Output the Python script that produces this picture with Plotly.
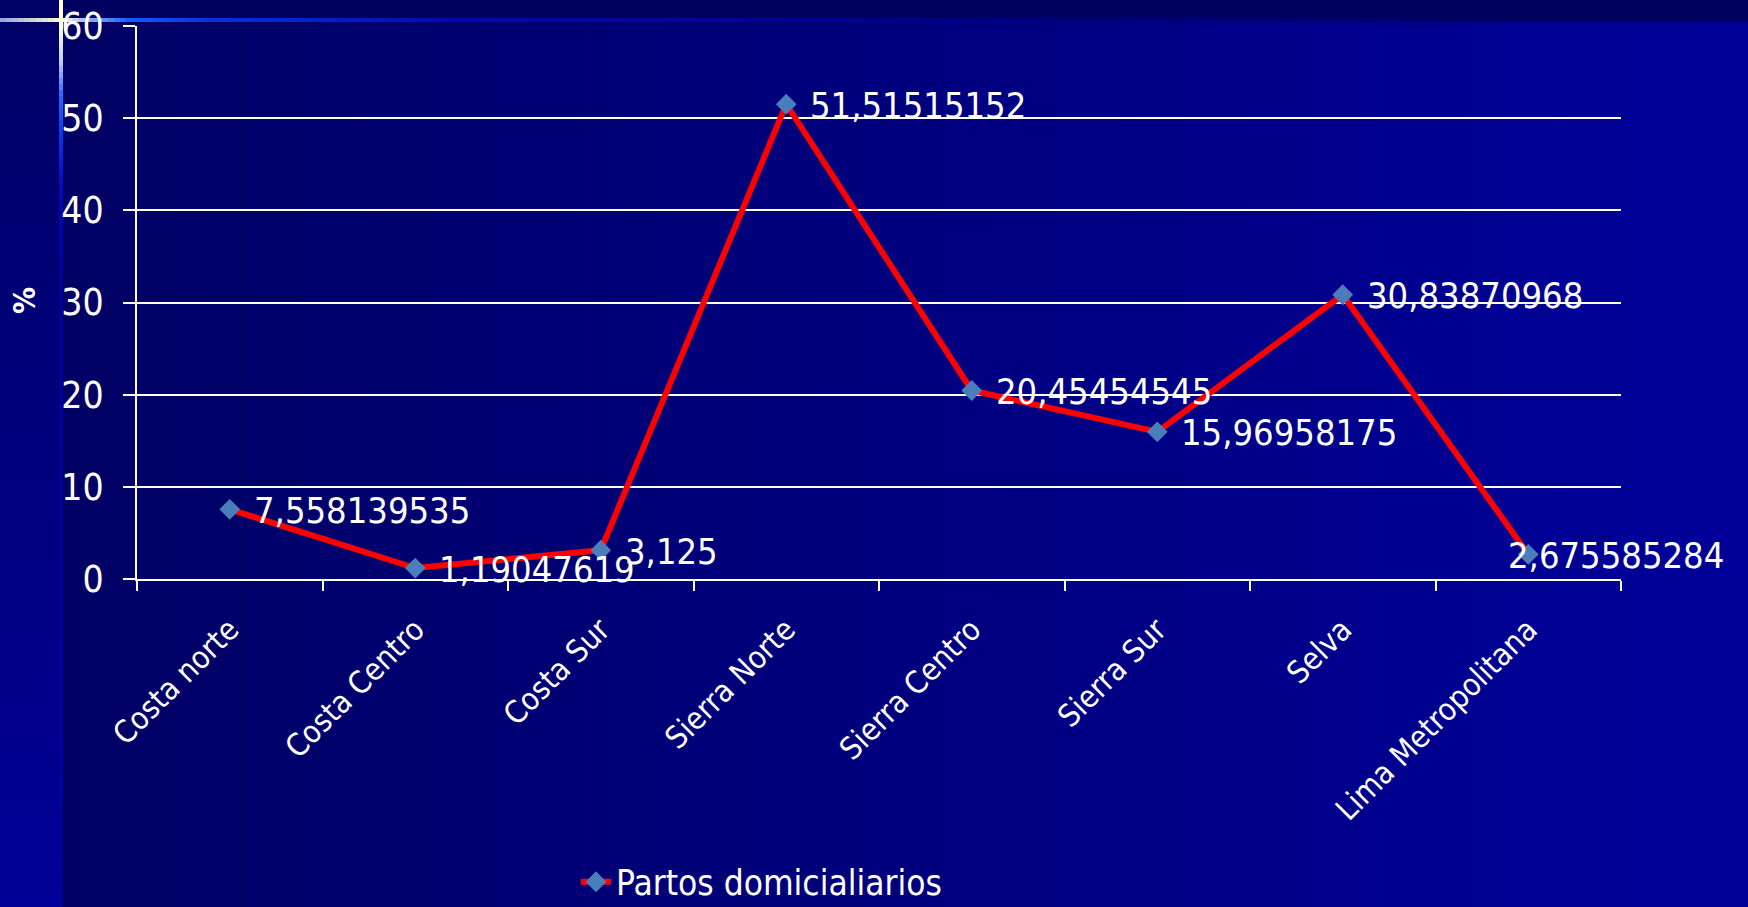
import plotly.graph_objects as go

# chart data
regiones = ["Costa norte", "Costa Centro", "Costa Sur", "Sierra Norte",
            "Sierra Centro", "Sierra Sur", "Selva", "Lima Metropolitana"]
partos = [7.558139535, 1.19047619, 3.125, 51.51515152,
          20.45454545, 15.96958175, 30.83870968, 2.675585284]
serie = "Partos domicialiarios"
y_ticks = [0, 10, 20, 30, 40, 50, 60]

W, H = 1748, 907
ML, MR, MT, MB = 137, 127, 26, 328
FONT = "Tahoma, 'DejaVu Sans Condensed', 'DejaVu Sans', sans-serif"


def px(x):
    return (x - ML) / (W - ML - MR)


def py(y):
    return (H - MB - y) / (H - MT - MB)


def mix(c1, c2, t):
    return "rgb(%d,%d,%d)" % tuple(round(a + (b - a) * t) for a, b in zip(c1, c2))


def ramp(keys, t):
    # keys: list of (pos, rgb)
    for (p0, c0), (p1, c1) in zip(keys, keys[1:]):
        if p0 <= t <= p1:
            return mix(c0, c1, (t - p0) / (p1 - p0) if p1 > p0 else 0)
    return mix(keys[-1][1], keys[-1][1], 0)


shapes = []
# main background: horizontal gradient
n = 90
for i in range(n):
    x0 = 60 + (W - 60) * i / n
    x1 = 60 + (W - 60) * (i + 1) / n + 1
    shapes.append(dict(type="rect", xref="paper", yref="paper", layer="below",
                       x0=px(x0), x1=px(x1), y0=py(H), y1=py(22),
                       fillcolor=mix((0, 0, 100), (0, 0, 153), i / (n - 1)),
                       line_width=0))
# top band
shapes.append(dict(type="rect", xref="paper", yref="paper", layer="below",
                   x0=px(60), x1=px(W), y0=py(22), y1=py(0),
                   fillcolor="rgb(0,0,96)", line_width=0))
# left band: vertical gradient
for i in range(n):
    y0 = H * i / n
    y1 = H * (i + 1) / n + 1
    shapes.append(dict(type="rect", xref="paper", yref="paper", layer="below",
                       x0=px(0), x1=px(60), y0=py(y1), y1=py(y0),
                       fillcolor=mix((0, 0, 102), (0, 0, 150), i / (n - 1)),
                       line_width=0))

# decorative cross lines
hkeys = [(0, (150, 160, 225)), (61, (255, 255, 205)), (95, (120, 160, 255)),
         (130, (20, 90, 255)), (210, (10, 50, 220)), (450, (0, 10, 175)),
         (1000, (0, 0, 130)), (1400, (0, 0, 110))]
seg = 6
x = 0
while x < 1400:
    shapes.append(dict(type="line", xref="paper", yref="paper", layer="below",
                       x0=px(x), x1=px(x + seg + 0.5), y0=py(20), y1=py(20),
                       line=dict(color=ramp(hkeys, x + seg / 2), width=4)))
    x += seg
vkeys = [(0, (255, 255, 205)), (25, (255, 255, 215)), (60, (200, 210, 255)),
         (95, (40, 100, 255)), (140, (10, 50, 230)), (190, (0, 10, 180)),
         (260, (0, 0, 160)), (907, (0, 0, 165))]
y = 0
while y < H:
    shapes.append(dict(type="line", xref="paper", yref="paper", layer="below",
                       x0=px(61), x1=px(61), y0=py(y), y1=py(y + seg + 0.5),
                       line=dict(color=ramp(vkeys, y + seg / 2),
                                 width=4 if y < 260 else 3)))
    y += seg

fig = go.Figure()
fig.add_trace(go.Scatter(
    x=regiones, y=partos, name=serie, mode="lines+markers",
    line=dict(color="#FF0000", width=6),
    marker=dict(symbol="diamond", size=16, color="#4A7EBB",
                line=dict(width=0)),
    cliponaxis=False,
))

# data labels
annotations = []
for i, (r, v) in enumerate(zip(regiones, partos)):
    last = i == len(regiones) - 1
    annotations.append(dict(
        x=r, y=v, xref="x", yref="y", text=str(v).replace(".", ","),
        showarrow=False, xanchor="left", yanchor="middle",
        xshift=-22 if last else 22, yshift=-1,
        font=dict(family=FONT, size=36, color="white"),
    ))
annotations.append(dict(
    x=px(24), y=py(301), xref="paper", yref="paper", text="<b>%</b>",
    textangle=-90, showarrow=False, xanchor="center", yanchor="middle",
    font=dict(family=FONT, size=30, color="white"),
))

fig.update_layout(
    width=W, height=H,
    margin=dict(l=ML, r=MR, t=MT, b=MB, autoexpand=False),
    paper_bgcolor="rgb(0,0,102)",
    plot_bgcolor="rgba(0,0,0,0)",
    font=dict(family=FONT, color="white"),
    shapes=shapes,
    annotations=annotations,
    showlegend=True,
    legend=dict(orientation="h", x=px(576), y=py(882), xanchor="left",
                yanchor="middle", bgcolor="rgba(0,0,0,0)",
                font=dict(family=FONT, size=35, color="white")),
)
fig.update_xaxes(
    type="category", range=[-0.5, len(regiones) - 0.5],
    tickson="boundaries", ticks="outside", ticklen=10,
    tickwidth=2, tickcolor="white", showline=True, linecolor="white",
    linewidth=2, showgrid=False, tickangle=-45, ticklabelstandoff=18,
    automargin=False,
    tickfont=dict(family=FONT, size=31, color="white"),
)
fig.update_yaxes(
    range=[0, 60], tickvals=y_ticks, ticks="outside", ticklen=12,
    tickwidth=2, tickcolor="white", showline=True, linecolor="white",
    linewidth=2, showgrid=True, gridcolor="white", gridwidth=2,
    zeroline=False, ticklabelstandoff=12, automargin=False,
    tickfont=dict(family=FONT, size=37, color="white"),
)

fig.write_html(
    "out.html",
    config={"displayModeBar": False},
    post_script="document.body.style.margin='0';"
                "document.body.style.overflow='hidden';",
)
